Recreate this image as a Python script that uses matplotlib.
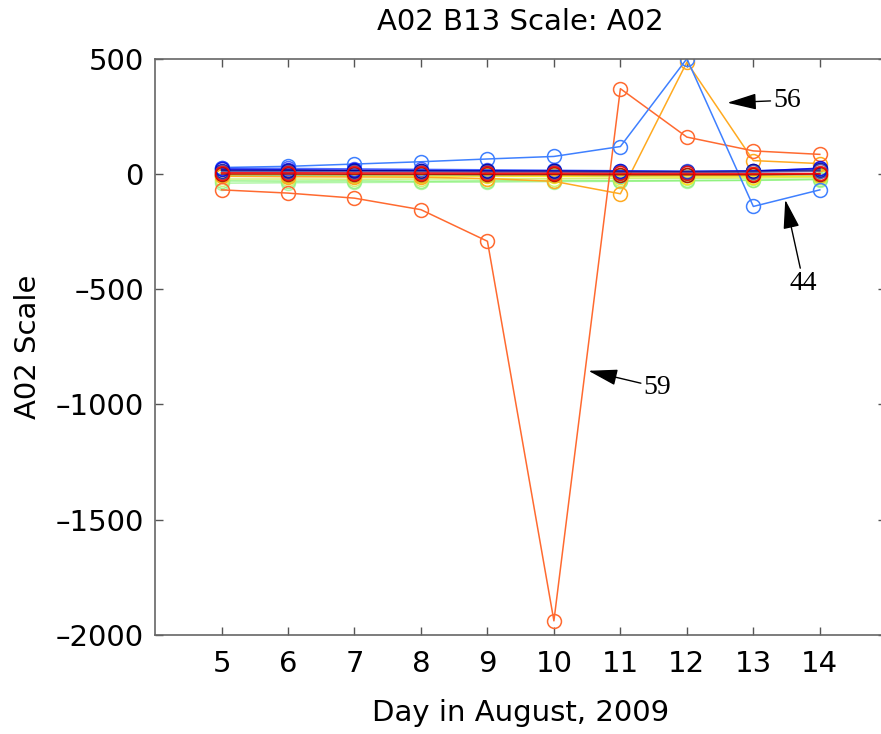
import matplotlib
matplotlib.use("Agg")
import matplotlib.pyplot as plt

# days on the x axis
days = [5, 6, 7, 8, 9, 10, 11, 12, 13, 14]

# background series (near zero), colours from a jet-like ramp
base_series = [
    ([-40, -38, -37, -36, -35, -33, -32, -30, -28, -25], "#a6f59a"),
    ([-30, -31, -30, -32, -30, -29, -30, -28, -27, -22], "#8cf27a"),
    ([-22, -22, -23, -22, -21, -21, -20, -19, -18, -15], "#c8f060"),
    ([-8, -8, -9, -9, -10, -11, -12, -13, -12, -10], "#ffe000"),
    ([-5, -6, -6, -5, -6, -5, -7, -6, -6, -4], "#40d8e0"),
    ([-3, -3, -4, -4, -4, -5, -5, -6, -5, -3], "#ffb000"),
    ([25, 24, 22, 20, 18, 16, 14, 12, 14, 22], "#3050ff"),
    ([20, 18, 16, 15, 14, 12, 12, 10, 12, 25], "#0000e0"),
    ([15, 15, 14, 13, 12, 12, 10, 10, 11, 16], "#00008f"),
    ([10, 10, 9, 9, 8, 8, 7, 7, 8, 12], "#5050a0"),
    ([0, 0, -1, -1, -2, -2, -3, -3, -3, 0], "#a00000"),
    ([5, 5, 4, 4, 3, 3, 2, 2, 1, 2], "#ff0000"),
]

# highlighted series
s56 = [-10, -12, -13, -14, -20, -32, -86, 485, 58, 45]
s59 = [-69, -83, -105, -155, -292, -1939, 370, 160, 100, 85]
s44 = [28, 33, 43, 53, 65, 76, 119, 500, -141, -69]

yticks = [500, 0, -500, -1000, -1500, -2000]

fig = plt.figure(figsize=(8.81, 7.34), dpi=100)
ax = fig.add_axes([0.176, 0.135, 0.83, 0.785])

mk = dict(marker="o", markersize=10, markerfacecolor="none", markeredgewidth=1.1, linewidth=1.1)

for vals, col in base_series[:6]:
    ax.plot(days, vals, color=col, markeredgecolor=col, alpha=0.85, **mk)
ax.plot(days, s56, color="#ffaa20", markeredgecolor="#ffaa20", **mk)
ax.plot(days, s59, color="#ff6a30", markeredgecolor="#ff6a30", **mk)
ax.plot(days, s44, color="#3f80ff", markeredgecolor="#3f80ff", **mk)
for vals, col in base_series[6:]:
    ax.plot(days, vals, color=col, markeredgecolor=col, alpha=0.85, **mk)

ax.set_xlim(4, 15)
ax.set_ylim(-2000, 500)
ax.set_xticks(days)
ax.set_yticks(yticks)
ax.set_yticklabels([str(v).replace("-", "\u2013") for v in yticks])
ax.tick_params(direction="in", length=6, width=1, color="#555555", labelsize=21,
               top=True, right=True)
ax.tick_params(axis="x", pad=11)
ax.tick_params(axis="y", pad=8)
for sp in ax.spines.values():
    sp.set_color("#666666")
    sp.set_linewidth(1.2)

ax.set_title("A02 B13 Scale: A02", fontsize=21, pad=21)
ax.set_xlabel("Day in August, 2009", fontsize=21, labelpad=15)
ax.set_ylabel("A02 Scale", fontsize=21, labelpad=10)

arrow = dict(arrowstyle="-|>,head_length=0.9,head_width=0.25", color="black", lw=1, shrinkA=0, shrinkB=0)
serif = dict(family="Liberation Serif", fontsize=20, va="center", ha="left")
ax.annotate("56", xy=(12.61, 309), xytext=(13.30, 320), arrowprops=arrow, **serif)
ax.annotate("59", xy=(10.52, -854), xytext=(11.35, -925), arrowprops=arrow, **serif)
ax.annotate("44", xy=(13.48, -112), xytext=(13.55, -475), arrowprops=arrow, **serif)

fig.savefig("out.png", dpi=100)
